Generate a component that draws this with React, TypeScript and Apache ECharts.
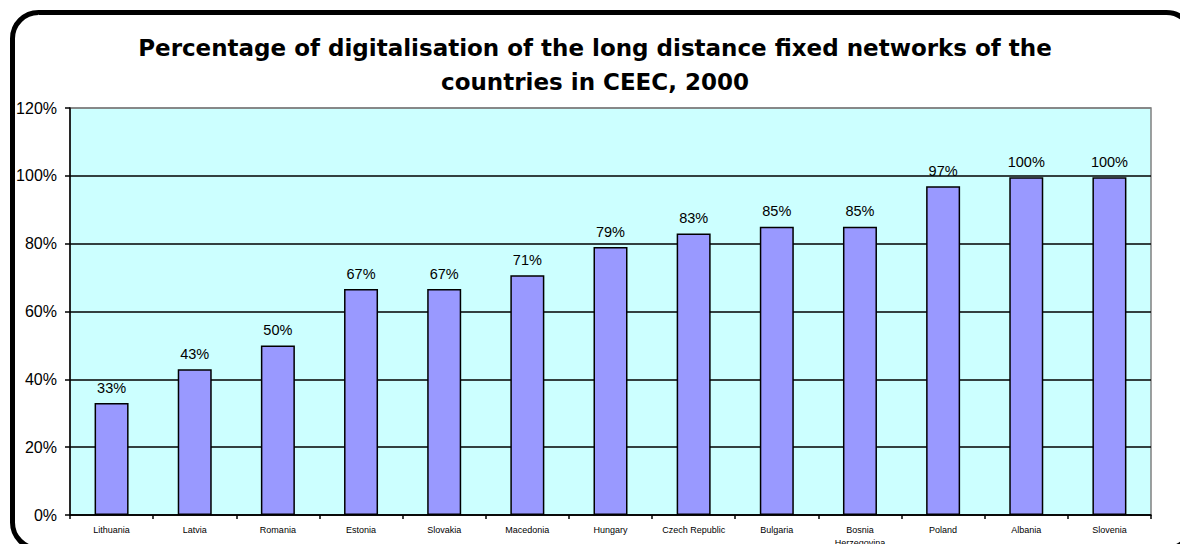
import React, { useEffect, useRef } from "react";
import * as echarts from "echarts";

const countries = [
  "Lithuania", "Latvia", "Romania", "Estonia", "Slovakia", "Macedonia", "Hungary",
  "Czech Republic", "Bulgaria", "Bosnia\nHerzegovina", "Poland", "Albania", "Slovenia",
];
const digitalisation = [33, 43, 50, 66.6, 66.6, 70.7, 79, 83, 85, 85, 96.9, 99.6, 99.6];
const titleLines = [
  "Percentage of digitalisation of the long distance fixed networks of the",
  "countries in CEEC, 2000",
];

export default function App() {
  const ref = useRef<HTMLDivElement>(null);
  useEffect(() => {
    if (!ref.current) return;
    const chart = echarts.init(ref.current, undefined, { renderer: "svg" });
    chart.setOption({
      animation: false,
      backgroundColor: "#ffffff",
      title: {
        text: titleLines.join("\n"),
        left: 590,
        textAlign: "center",
        top: 26,
        textStyle: {
          fontFamily: "DejaVu Sans",
          fontWeight: "bold",
          fontSize: 23,
          lineHeight: 34,
          color: "#000",
        },
      },
      graphic: [
        {
          type: "rect",
          shape: { x: 12.5, y: 12.5, width: 1180, height: 536, r: 26 },
          style: { fill: "none", stroke: "#000", lineWidth: 5 },
          silent: true,
          z: 100,
        },
      ],
      grid: {
        left: 70,
        top: 108,
        width: 1081,
        height: 407,
        show: true,
        containLabel: false,
        outerBoundsMode: "none",
        backgroundColor: "#CCFFFF",
        borderColor: "#808080",
        borderWidth: 1.5,
      },
      xAxis: {
        type: "category",
        data: countries,
        axisLine: { show: true, lineStyle: { color: "#000", width: 1.5 } },
        axisTick: { show: true, alignWithLabel: false, length: 4, lineStyle: { color: "#000", width: 1.5 } },
        axisLabel: {
          interval: 0,
          fontFamily: "Liberation Sans",
          fontSize: 9,
          color: "#000",
          margin: 8,
          lineHeight: 13,
        },
      },
      yAxis: {
        type: "value",
        min: 0,
        max: 120,
        interval: 20,
        axisLine: { show: true, lineStyle: { color: "#000", width: 1.5 } },
        axisTick: { show: true, length: 5, lineStyle: { color: "#000", width: 1.5 } },
        axisLabel: {
          formatter: (v: number) => `${v}%`,
          fontFamily: "Liberation Sans",
          fontSize: 16,
          color: "#000",
          margin: 13,
        },
        splitLine: {
          show: true,
          lineStyle: {
            color: ["#000", "#000", "#000", "#000", "#000", "#000", "#808080"],
            width: 1.5,
          },
        },
      },
      series: [
        {
          type: "bar",
          data: digitalisation,
          barWidth: 34,
          itemStyle: { color: "#9999FF", borderColor: "#000", borderWidth: 1.5 },
          label: {
            show: true,
            position: "top",
            distance: 8,
            formatter: (p: any) => `${Math.round(p.value)}%`,
            fontFamily: "Liberation Sans",
            fontSize: 14.5,
            color: "#000",
          },
        },
      ],
    });
    return () => chart.dispose();
  }, []);
  return (
    <div
      ref={ref}
      style={{ position: "fixed", left: 0, top: 0, width: 1180, height: 544 }}
    />
  );
}
